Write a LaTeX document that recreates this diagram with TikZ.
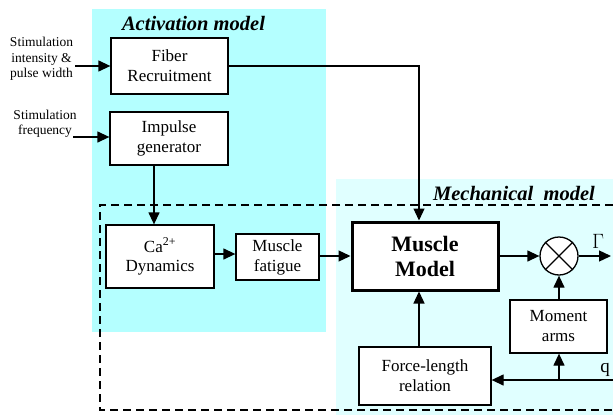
\documentclass[tikz,border=0pt]{standalone}
\usepackage{fontspec}
\setmainfont{Liberation Serif}
\usetikzlibrary{arrows.meta,calc}
\definecolor{actcyan}{RGB}{180,255,255}
\definecolor{mechcyan}{RGB}{224,255,255}
\tikzset{
  blk/.style={draw=black,line width=1.3pt,fill=white,align=center,inner sep=0pt,
    font=\fontsize{17}{20}\selectfont},
  conn/.style={line width=1.3pt,-{Triangle[length=12pt,width=11pt]}},
  plain/.style={line width=1.3pt},
  inlabel/.style={align=center,inner sep=2pt,font=\fontsize{13.5}{15.5}\selectfont},
  title/.style={font=\fontsize{20.5}{22}\selectfont\bfseries\itshape},
}
\begin{document}
\begin{tikzpicture}[x=1pt,y=-1pt]
\useasboundingbox (0,0) rectangle (613,415);
% shaded model regions
\fill[actcyan] (92,9) rectangle (326,332);
\fill[mechcyan] (336,179) rectangle (613,415);
\node[title] (acttitle) at (193.5,23) {Activation model};
\node[title] (mechtitle) at (514,193) {Mechanical\hspace{0.25em} model};
% dashed frame, open on the right
\draw[line width=2pt,dash pattern=on 8pt off 5pt] (613,205) -- (100,205) -- (100,410) -- (613,410);

% blocks
\node[blk,minimum width=117pt,minimum height=56pt] (fiber) at (169.5,66) {Fiber\\Recruitment};
\node[blk,minimum width=118pt,minimum height=53pt] (impulse) at (169,138.5) {Impulse\\generator};
\node[blk,minimum width=108pt,minimum height=63pt] (ca) at (160,256.5) {Ca\textsuperscript{2+}\\[-1pt]Dynamics};
\node[blk,minimum width=83pt,minimum height=46pt] (fatigue) at (277.5,257) {Muscle\\fatigue};
\node[blk,line width=3pt,minimum width=146pt,minimum height=68pt,
  font=\fontsize{22}{25}\selectfont\bfseries] (muscle) at (425,256) {Muscle\\Model};
\node[draw=black,line width=1.3pt,fill=white,circle,minimum size=38pt,inner sep=0pt] (mult) at (559,256) {};
\draw[plain] (mult.north west) -- (mult.south east) (mult.north east) -- (mult.south west);
\node[blk,minimum width=97pt,minimum height=53pt] (moment) at (558.5,326.5) {Moment\\arms};
\node[blk,minimum width=132pt,minimum height=58pt] (force) at (425,376) {Force-length\\relation};

% inputs
\node[inlabel] (stim1) at (41.5,59) {Stimulation\\intensity \&\\pulse width};
\node[inlabel] (stim2) at (45,124) {Stimulation\\frequency};
\coordinate (f0) at (73,137);
\draw[conn] (stim1.east |- fiber.west) -- (fiber.west);
\draw[conn] (f0) -- (f0 -| impulse.west);

% activation chain
\coordinate (cx) at (154,0);
\draw[conn] (impulse.south -| cx) -- (ca.north -| cx);
\draw[conn] (ca.east |- 0,254) -- (fatigue.west |- 0,254);
\draw[conn] (fatigue.east |- muscle.west) -- (muscle.west);
\coordinate (mx) at (419,0);
\draw[conn] (fiber.east) -| (muscle.north -| mx);
\draw[conn] (force.north -| mx) -- (muscle.south -| mx);

% mechanical part
\draw[conn] (muscle.east |- mult) -- (mult.west);
\coordinate (gout) at (611,256);
\draw[conn] (mult.east) -- (gout);
\node[font=\fontsize{21}{22}\selectfont] (gam) at (598,241) {$\Gamma$};
\draw[conn] (moment.north -| mult) -- (mult.south);
\coordinate (qin) at (613,380);
\draw[conn] (qin) -- (qin -| force.east);
\draw[conn] (qin -| mult) -- (moment.south -| mult);
\node[font=\fontsize{19}{20}\selectfont] (qlab) at (605,370) {q};
\end{tikzpicture}
\end{document}
